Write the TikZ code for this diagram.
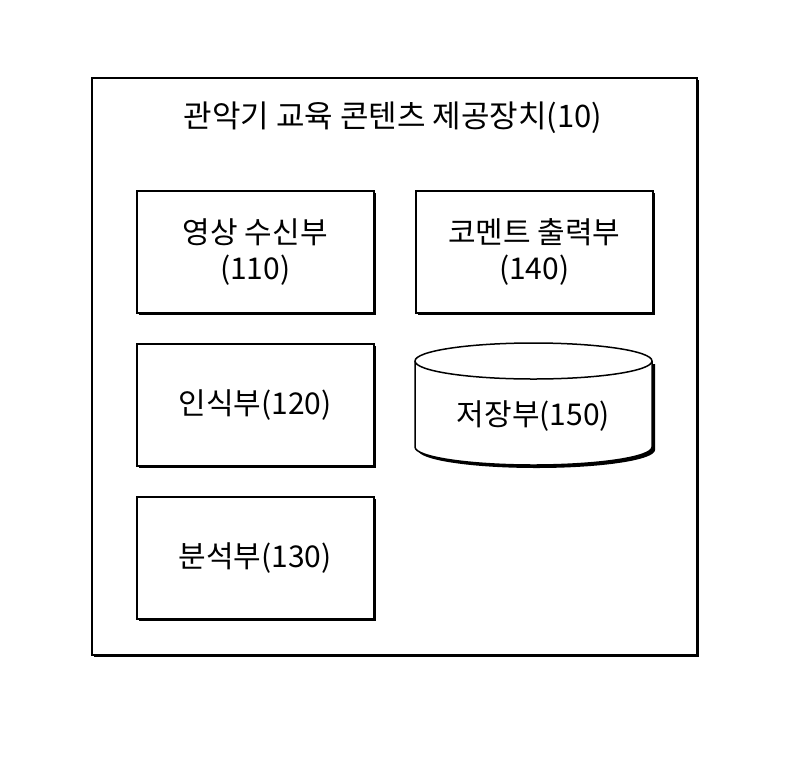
\documentclass[tikz,border=0pt]{standalone}
\usepackage{fontspec}
\setmainfont{Noto Sans CJK KR}
\usetikzlibrary{shapes.geometric}
\begin{document}
\begin{tikzpicture}[x=1pt,y=-1pt,
  box/.style={draw,line width=1.5pt,fill=white,minimum width=237pt,minimum height=122pt,anchor=north west,align=center,font=\fontsize{30}{36}\selectfont,inner sep=0pt},
  shad/.style={fill=black,minimum width=237pt,minimum height=122pt,anchor=north west,inner sep=0pt}]
\useasboundingbox (0,0) rectangle (812,756);
\fill (94,80) rectangle (699,657);
\node[draw,line width=1.5pt,fill=white,minimum width=605pt,minimum height=577pt,anchor=north west,inner sep=0pt] (outer) at (91,77) {};
\node[font=\fontsize{31}{36}\selectfont] (title) at (393,118) {관악기 교육 콘텐츠 제공장치(10)};
\foreach \x/\y in {136/190,136/343,136/496,415/190}{\node[shad] at (\x+3,\y+3) {};}
\node[box] (a) at (136,190) {영상 수신부\\(110)};
\node[box] (b) at (136,343) {인식부(120)};
\node[box] (c) at (136,496) {분석부(130)};
\node[box] (d) at (415,190) {코멘트 출력부\\(140)};
\fill (418,364) -- (418,450) arc[start angle=180,end angle=0,x radius=118.5,y radius=18] -- (655,364) -- cycle;
\draw[line width=1.5pt,fill=white] (415,361) -- (415,447) arc[start angle=180,end angle=0,x radius=118.5,y radius=18] -- (652,361) arc[start angle=0,end angle=-180,x radius=118.5,y radius=18] -- cycle;
\draw[line width=1.5pt] (415,361) arc[start angle=180,end angle=0,x radius=118.5,y radius=18];
\node[font=\fontsize{30}{36}\selectfont] (e) at (533.5,416) {저장부(150)};
\end{tikzpicture}
\end{document}
